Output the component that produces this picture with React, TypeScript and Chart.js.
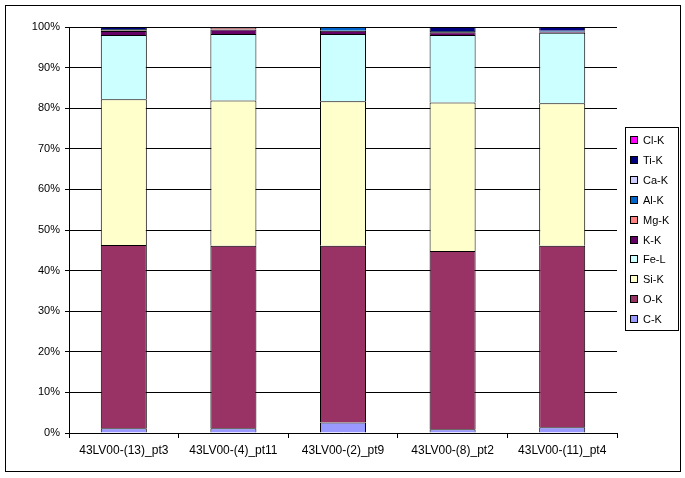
import React, { useEffect, useRef } from "react";
import { Chart, registerables } from "chart.js";

Chart.register(...registerables);

const categories = ["43LV00-(13)_pt3", "43LV00-(4)_pt11", "43LV00-(2)_pt9", "43LV00-(8)_pt2", "43LV00-(11)_pt4"];
const seriesNames = ["C-K", "O-K", "Si-K", "Fe-L", "K-K", "Mg-K", "Al-K", "Ca-K", "Ti-K", "Cl-K"];
const cK = [1.2, 1.2, 2.6, 0.9, 1.4];
const oK = [45.1, 44.9, 43.5, 43.9, 44.7];
const siK = [35.9, 35.8, 35.6, 36.6, 35.1];
const feL = [15.8, 16.4, 16.6, 16.6, 17.4];
const kK = [1.0, 1.1, 0.8, 0.7, 0.2];
const mgK = [0.2, 0.5, 0, 0, 0];
const alK = [0.3, 0.1, 0.9, 0.3, 0.3];
const caK = [0, 0, 0, 0, 0];
const tiK = [0.5, 0, 0, 1.0, 0.9];
const clK = [0, 0, 0, 0, 0];
const yTicks = [0, 10, 20, 30, 40, 50, 60, 70, 80, 90, 100];

const seriesValues = [cK, oK, siK, feL, kK, mgK, alK, caK, tiK, clK];
const seriesColors = ["#9999FF", "#993366", "#FFFFCC", "#CCFFFF", "#660066", "#FF8080", "#0066CC", "#CCCCFF", "#000080", "#FF00FF"];

const FONT = "'Liberation Sans', Arial, sans-serif";

const framePlugin = {
  id: "frameAndLegend",
  afterDraw(chart: any) {
    const ctx = chart.ctx;
    ctx.save();
    ctx.strokeStyle = "#000";
    ctx.lineWidth = 1;
    ctx.strokeRect(5.5, 5.5, 675, 466);
    // legend box
    ctx.strokeRect(625.5, 127.5, 53, 203);
    ctx.font = "11px " + FONT;
    ctx.textBaseline = "middle";
    ctx.textAlign = "left";
    const n = seriesNames.length;
    for (let i = 0; i < n; i++) {
      const idx = n - 1 - i;
      const y = Math.round(140 + i * 19.9);
      ctx.fillStyle = seriesColors[idx];
      ctx.fillRect(631, y - 3, 6, 6);
      ctx.strokeStyle = "#000";
      ctx.strokeRect(630.5, y - 3.5, 7, 7);
      ctx.fillStyle = "#000";
      ctx.fillText(seriesNames[idx], 643, y + 0.5);
    }
    ctx.restore();
  },
};

export default function App() {
  const ref = useRef<HTMLCanvasElement | null>(null);
  useEffect(() => {
    if (!ref.current) return;
    const chart = new Chart(ref.current, {
      type: "bar",
      data: {
        labels: categories,
        datasets: seriesNames.map((name, i) => ({
          label: name,
          data: seriesValues[i],
          backgroundColor: seriesColors[i],
          borderColor: "#000",
          borderWidth: (c: any) => (c.raw === 0 ? 0 : 1),
          barPercentage: 0.42,
          categoryPercentage: 1,
        })),
      },
      options: {
        responsive: false,
        animation: false,
        layout: { padding: { left: 0, top: 27, right: 68, bottom: 0 } },
        plugins: { legend: { display: false }, tooltip: { enabled: false } },
        scales: {
          x: {
            stacked: true,
            afterFit: (s: any) => {
              s.height = 45;
            },
            grid: {
              offset: true,
              drawOnChartArea: false,
              drawTicks: true,
              tickLength: 5,
              color: "#000",
            },
            border: { display: true, color: "#000" },
            ticks: { color: "#000", font: { family: FONT, size: 12 }, padding: 5, maxRotation: 0, autoSkip: false },
          },
          y: {
            stacked: true,
            min: 0,
            max: 100,
            afterFit: (s: any) => {
              s.width = 69;
            },
            afterBuildTicks: (s: any) => {
              s.ticks = yTicks.map((v) => ({ value: v }));
            },
            grid: { color: "#000", tickLength: 4, drawTicks: true },
            border: { display: true, color: "#000" },
            ticks: {
              color: "#000",
              font: { family: FONT, size: 11 },
              padding: 5,
              callback: (v: any) => v + "%",
            },
          },
        },
      },
      plugins: [framePlugin],
    });
    return () => chart.destroy();
  }, []);
  return (
    <div style={{ position: "absolute", left: 0, top: 0, width: 685, height: 478, background: "#fff" }}>
      <canvas ref={ref} width={685} height={478} style={{ width: 685, height: 478 }} />
    </div>
  );
}
